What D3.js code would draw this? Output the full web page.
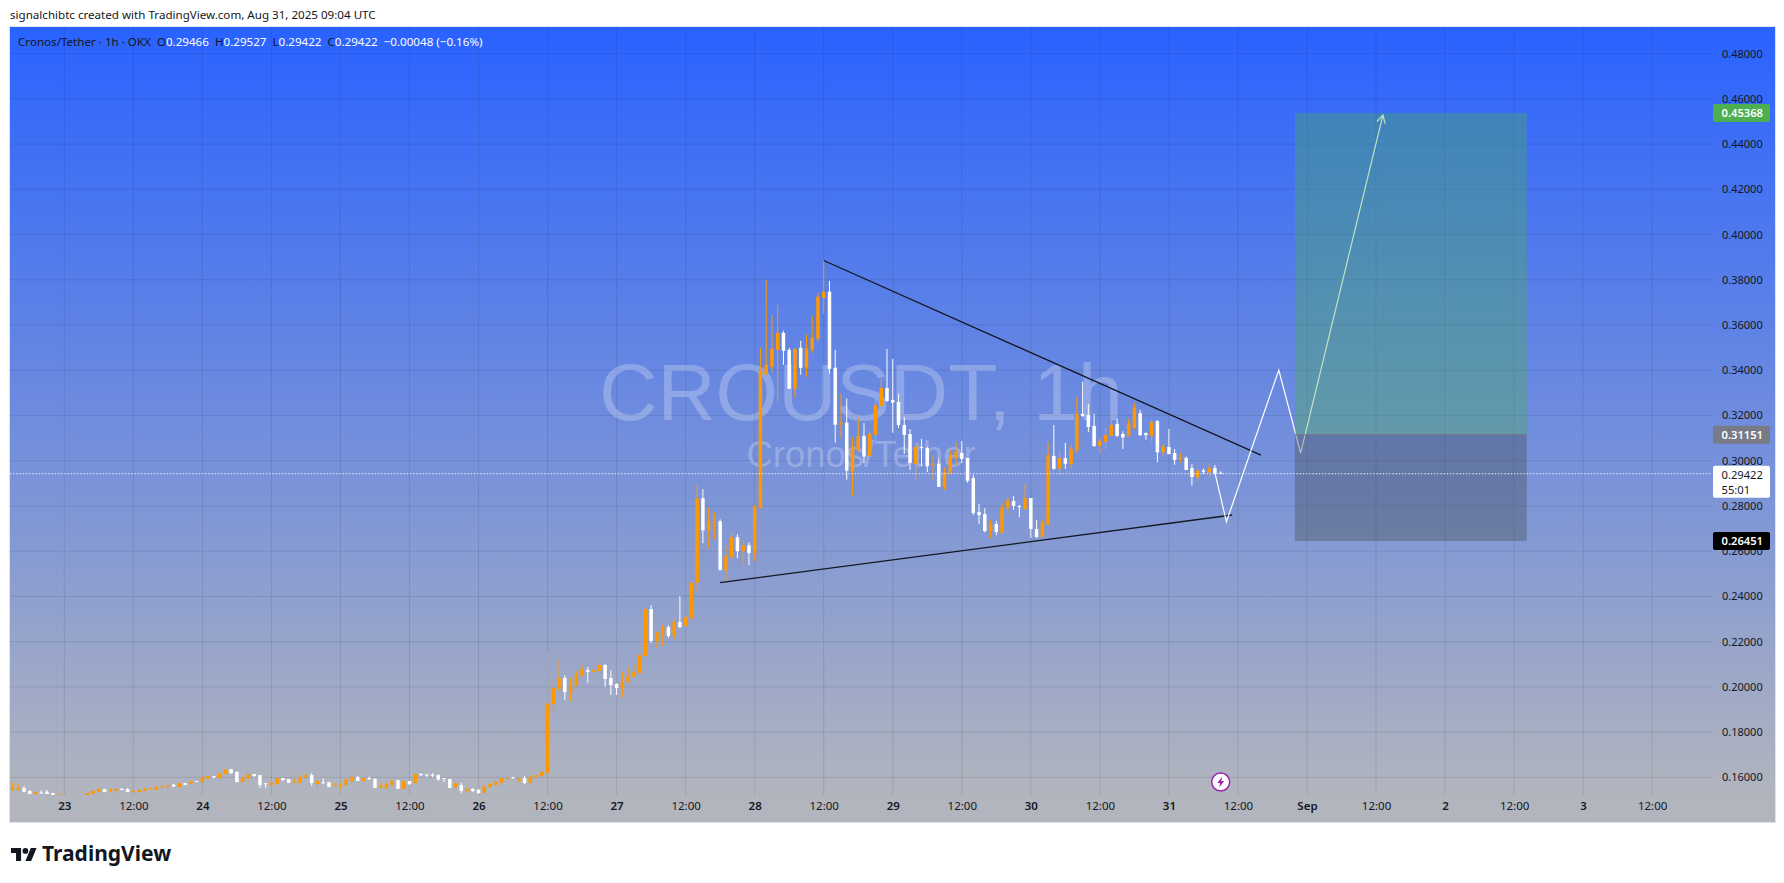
<!DOCTYPE html>
<html>
<head>
<meta charset="utf-8">
<script src="https://cdnjs.cloudflare.com/ajax/libs/d3/7.8.5/d3.min.js"></script>
<style>
  html, body { margin: 0; padding: 0; background: #fff; }
  svg { display: block; }
  text { font-family: "Noto Sans", sans-serif; }
</style>
</head>
<body>
<div id="chart"></div>
<script>
// hourly candles, first one is Aug 22 15:00 UTC
var firstHour = -9;  // hours relative to Aug 23 00:00
var opens = [
  .1544,.1544,.1553,.1540,.1527,.1534,.1537,.1531,.1522,.1520,
  .1512,.1508,.1510,.1522,.1527,.1535,.1549,.1540,.1540,.1549,
  .1549,.1537,.1535,.1540,.1549,.1544,.1557,.1559,.1568,.1557,
  .1575,.1571,.1584,.1579,.1593,.1606,.1597,.1615,.1637,.1624,
  .1579,.1593,.1615,.1610,.1574,.1566,.1571,.1597,.1593,.1575,
  .1575,.1599,.1610,.1571,.1579,.1579,.1563,.1568,.1566,.1585,
  .1601,.1584,.1597,.1593,.1554,.1554,.1566,.1588,.1549,.1584,
  .1575,.1615,.1613,.1612,.1610,.1597,.1593,.1557,.1566,.1540,
  .1549,.1544,.1531,.1557,.1566,.1575,.1593,.1601,.1588,.1597,
  .1575,.1600,.1606,.1619,.1924,.1990,.2039,.1977,.2004,.2048,
  .2074,.2066,.2070,.2097,.2039,.2013,.1995,.2021,.2044,.2061,
  .2136,.2344,.2203,.2234,.2264,.2225,.2287,.2269,.2304,.2461,
  .2834,.2692,.2728,.2732,.2516,.2573,.2662,.2600,.2626,.2591,
  .2790,.3380,.3415,.3490,.3565,.3490,.3318,.3499,.3411,.3490,
  .3539,.3720,.3747,.3411,.3159,.3168,.2948,.3048,.3110,.3022,
  .3114,.3242,.3322,.3269,.3260,.3158,.3118,.2986,.3061,.3056,
  .2981,.2986,.2884,.2946,.3012,.3034,.3012,.2923,.2773,.2764,
  .2689,.2720,.2680,.2791,.2822,.2800,.2786,.2835,.2698,.2663,
  .2716,.3021,.2964,.3012,.2986,.3048,.3207,.3202,.3154,.3065,
  .3083,.3110,.3163,.3118,.3108,.3145,.3210,.3122,.3110,.3175,
  .3037,.3060,.3034,.3010,.3012,.2968,.2926,.2957,.2948,.2968,.29466
];
var highs = [
  .1578,.1571,.1562,.1544,.1540,.1544,.1544,.1531,.1527,.1522,
  .1516,.1514,.1519,.1531,.1541,.1554,.1549,.1550,.1553,.1553,
  .1553,.1549,.1549,.1554,.1553,.1562,.1562,.1565,.1572,.1575,
  .1575,.1584,.1584,.1603,.1606,.1606,.1618,.1635,.1637,.1628,
  .1603,.1615,.1615,.1610,.1575,.1588,.1597,.1597,.1593,.1593,
  .1610,.1616,.1619,.1588,.1596,.1579,.1575,.1575,.1593,.1609,
  .1606,.1601,.1603,.1597,.1575,.1575,.1588,.1588,.1584,.1584,
  .1619,.1619,.1613,.1619,.1615,.1597,.1593,.1579,.1575,.1557,
  .1553,.1549,.1562,.1575,.1584,.1597,.1601,.1601,.1597,.1606,
  .1606,.1610,.1628,.2156,.2023,.2120,.2052,.2039,.2070,.2097,
  .2088,.2101,.2127,.2101,.2074,.2017,.2066,.2088,.2101,.2192,
  .2348,.2362,.2242,.2273,.2273,.2300,.2401,.2318,.2467,.2896,
  .2874,.2794,.2772,.2741,.2626,.2682,.2675,.2644,.2639,.2803,
  .3499,.3800,.3645,.3689,.3574,.3499,.3495,.3530,.3557,.3641,
  .3742,.3888,.3795,.3490,.3296,.3275,.3101,.3190,.3166,.3132,
  .3272,.3364,.3494,.3450,.3295,.3193,.3140,.3079,.3096,.3062,
  .3025,.3006,.2968,.3048,.3083,.3087,.3012,.2938,.2808,.2790,
  .2738,.2733,.2814,.2839,.2844,.2804,.2897,.2835,.2738,.2739,
  .3082,.3158,.3043,.3079,.3070,.3282,.3348,.3251,.3207,.3101,
  .3145,.3211,.3185,.3130,.3185,.3255,.3225,.3125,.3180,.3180,
  .3074,.3140,.3052,.3034,.3019,.2985,.2966,.2966,.2990,.2981,.29527
];
var lows = [
  .1544,.1544,.1535,.1527,.1527,.1529,.1527,.1522,.1522,.1510,
  .1506,.1504,.1507,.1522,.1527,.1535,.1535,.1535,.1540,.1544,
  .1535,.1537,.1535,.1540,.1544,.1544,.1553,.1553,.1559,.1557,
  .1566,.1571,.1581,.1579,.1593,.1597,.1597,.1615,.1615,.1579,
  .1579,.1593,.1600,.1553,.1553,.1566,.1571,.1584,.1576,.1575,
  .1575,.1599,.1562,.1549,.1571,.1557,.1563,.1549,.1566,.1579,
  .1584,.1579,.1588,.1553,.1554,.1549,.1566,.1549,.1549,.1566,
  .1575,.1606,.1601,.1601,.1584,.1579,.1553,.1549,.1531,.1535,
  .1535,.1527,.1531,.1557,.1566,.1575,.1593,.1593,.1579,.1571,
  .1575,.1600,.1606,.1615,.1880,.1983,.1942,.1937,.2004,.2048,
  .2017,.2035,.2070,.1999,.1964,.1964,.1955,.2021,.2044,.2061,
  .2127,.2194,.2172,.2181,.2216,.2211,.2260,.2265,.2278,.2423,
  .2635,.2613,.2653,.2516,.2467,.2555,.2569,.2538,.2538,.2555,
  .2790,.3380,.3389,.3261,.3424,.3318,.3278,.3380,.3371,.3477,
  .3526,.3649,.3384,.3079,.3101,.2916,.2845,.3040,.2989,.3013,
  .3070,.3242,.3260,.3123,.3145,.3030,.2959,.2915,.2977,.2950,
  .2915,.2884,.2871,.2942,.2977,.2990,.2902,.2760,.2720,.2683,
  .2658,.2672,.2680,.2764,.2782,.2751,.2782,.2658,.2658,.2663,
  .2716,.2959,.2937,.2964,.2968,.3034,.3193,.3127,.3061,.3030,
  .3048,.3110,.3105,.3052,.3108,.3140,.3108,.3093,.3084,.2993,
  .3022,.3029,.2982,.2993,.2959,.2890,.2907,.2941,.2928,.2944,.29422
];
var closes = [
  .1553,.1553,.1535,.1527,.1535,.1529,.1527,.1522,.1527,.1512,
  .1508,.1510,.1517,.1531,.1541,.1550,.1535,.1546,.1549,.1544,
  .1535,.1540,.1544,.1550,.1553,.1557,.1562,.1565,.1559,.1575,
  .1566,.1584,.1581,.1600,.1606,.1600,.1618,.1635,.1619,.1579,
  .1600,.1615,.1606,.1566,.1571,.1575,.1597,.1588,.1576,.1579,
  .1601,.1610,.1575,.1584,.1575,.1557,.1566,.1571,.1593,.1600,
  .1584,.1597,.1594,.1553,.1562,.1571,.1584,.1549,.1584,.1571,
  .1615,.1610,.1610,.1609,.1591,.1594,.1553,.1574,.1540,.1549,
  .1540,.1531,.1562,.1571,.1579,.1597,.1597,.1597,.1597,.1575,
  .1601,.1610,.1624,.1927,.1995,.2039,.1977,.2004,.2052,.2079,
  .2066,.2074,.2097,.2035,.2008,.1995,.2021,.2048,.2066,.2141,
  .2344,.2203,.2242,.2264,.2225,.2287,.2264,.2309,.2461,.2834,
  .2692,.2732,.2732,.2516,.2578,.2662,.2600,.2626,.2591,.2799,
  .3393,.3424,.3495,.3565,.3486,.3318,.3495,.3411,.3495,.3543,
  .3725,.3747,.3406,.3159,.3168,.2956,.3063,.3110,.3018,.3119,
  .3246,.3322,.3264,.3257,.3158,.3114,.2990,.3061,.3056,.2977,
  .2986,.2884,.2950,.3017,.3039,.3008,.2911,.2769,.2760,.2689,
  .2716,.2685,.2795,.2826,.2800,.2795,.2835,.2698,.2663,.2725,
  .3025,.2964,.3012,.2986,.3052,.3207,.3198,.3149,.3065,.3087,
  .3114,.3158,.3110,.3103,.3165,.3235,.3113,.3113,.3170,.3037,
  .3063,.3029,.3003,.3013,.2959,.2928,.2956,.2951,.2968,.2944,.29422
];

var priceTicks = [.16,.18,.20,.22,.24,.26,.28,.30,.32,.34,.36,.38,.40,.42,.44,.46,.48];
var timeTicks = [0,12,24,36,48,60,72,84,96,108,120,132,144,156,168,180,192,204,216,228,240,252,264,276];
var timeLabels = ["23","12:00","24","12:00","25","12:00","26","12:00","27","12:00","28","12:00","29","12:00","30","12:00","31","12:00","Sep","12:00","2","12:00","3","12:00"];

// drawings, as [hour, price]
var upperLine = [[132, .3885], [208, .3025]];
var lowerLine = [[114, .2461], [203, .2760]];
var projection = [[200, .2946], [202, .2730], [211.1, .3401], [214.9, .3034], [229.2, .4528]];
var positionHours = [213.9, 254.2];
var targetPrice = .45368, entryPrice = .31151, stopPrice = .26451, lastPrice = .29422;

var width = 1784, height = 883;
var pane = { left: 10, top: 27, right: 1712, bottom: 795, edge: 1775, floor: 822 };

var x = d3.scaleLinear().domain([-9.44, 286.4]).range([pane.left, pane.right]);
var y = d3.scaleLinear().domain([.16, .48]).range([777.4, 53.5]);

var svg = d3.select("#chart").append("svg").attr("width", width).attr("height", height);
var defs = svg.append("defs");

var grad = defs.append("linearGradient").attr("id", "bg")
  .attr("x1", 0).attr("y1", 0).attr("x2", 0).attr("y2", 1);
grad.append("stop").attr("offset", "0%").attr("stop-color", "#2962ff");
grad.append("stop").attr("offset", "100%").attr("stop-color", "#b2b5be");

defs.append("clipPath").attr("id", "plot").append("rect")
  .attr("x", pane.left).attr("y", pane.top)
  .attr("width", pane.right - pane.left).attr("height", pane.bottom - pane.top);

// header line
svg.append("text").attr("x", 10).attr("y", 19).attr("font-size", 11.6).attr("fill", "#131722")
  .text("signalchibtc created with TradingView.com, Aug 31, 2025 09:04 UTC");

// background
svg.append("rect").attr("x", pane.left).attr("y", pane.top)
  .attr("width", pane.edge - pane.left).attr("height", pane.floor - pane.top)
  .attr("fill", "#b2b5be");
svg.append("rect").attr("x", pane.left).attr("y", pane.top)
  .attr("width", pane.edge - pane.left).attr("height", pane.bottom - pane.top)
  .attr("fill", "url(#bg)");
svg.append("rect").attr("x", pane.left - .5).attr("y", pane.top - .5)
  .attr("width", pane.edge - pane.left + 1).attr("height", pane.floor - pane.top + 1)
  .attr("fill", "none").attr("stroke", "#e0e3eb");

// grid
var grid = svg.append("g").attr("stroke", "rgba(19,23,34,.10)").attr("stroke-width", 1);
grid.selectAll("line.v").data(timeTicks).enter().append("line").attr("class", "v")
  .attr("x1", function(d) { return x(d); }).attr("x2", function(d) { return x(d); })
  .attr("y1", pane.top).attr("y2", pane.bottom);
grid.selectAll("line.h").data(priceTicks).enter().append("line").attr("class", "h")
  .attr("x1", pane.left).attr("x2", pane.right)
  .attr("y1", function(d) { return y(d); }).attr("y2", function(d) { return y(d); });

// watermark
var mid = (pane.left + pane.right) / 2;
svg.append("text").attr("x", mid).attr("y", 420).attr("text-anchor", "middle")
  .attr("font-size", 80.5).attr("fill", "#fff").attr("fill-opacity", .25)
  .style("font-family", "'Liberation Sans', sans-serif").text("CROUSDT, 1h");
svg.append("text").attr("x", mid).attr("y", 467).attr("text-anchor", "middle")
  .attr("font-size", 36.5).attr("fill", "#fff").attr("fill-opacity", .25)
  .style("font-family", "'Liberation Sans', sans-serif").text("Cronos/Tether");

// candles
var candleIdx = d3.range(opens.length);
var candleColor = function(i) { return closes[i] >= opens[i] ? "#ff9800" : "#ffffff"; };
var candles = svg.append("g").attr("clip-path", "url(#plot)");
candles.selectAll("line").data(candleIdx).enter().append("line")
  .attr("x1", function(i) { return x(firstHour + i); })
  .attr("x2", function(i) { return x(firstHour + i); })
  .attr("y1", function(i) { return y(highs[i]); })
  .attr("y2", function(i) { return y(lows[i]); })
  .attr("stroke", candleColor).attr("stroke-width", 1);
candles.selectAll("rect").data(candleIdx).enter().append("rect")
  .attr("x", function(i) { return x(firstHour + i) - 1.75; })
  .attr("width", 3.5)
  .attr("y", function(i) { return y(Math.max(opens[i], closes[i])); })
  .attr("height", function(i) { return Math.max(1, Math.abs(y(opens[i]) - y(closes[i]))); })
  .attr("fill", candleColor);

// drawings
var line = d3.line().x(function(d) { return x(d[0]); }).y(function(d) { return y(d[1]); });
svg.append("path").attr("d", line(upperLine)).attr("fill", "none").attr("stroke", "#131722").attr("stroke-width", 1.3);
svg.append("path").attr("d", line(lowerLine)).attr("fill", "none").attr("stroke", "#131722").attr("stroke-width", 1.3);
svg.append("path").attr("d", line(projection)).attr("fill", "none").attr("stroke", "#fff").attr("stroke-width", 1.2);

// arrow head on the last leg
var tip = projection[projection.length - 1], prev = projection[projection.length - 2];
var ang = Math.atan2(y(tip[1]) - y(prev[1]), x(tip[0]) - x(prev[0]));
var head = [-.5, .5].map(function(a) {
  return [x(tip[0]) - 9 * Math.cos(ang + a), y(tip[1]) - 9 * Math.sin(ang + a)];
});
svg.append("path")
  .attr("d", "M" + head[0] + "L" + x(tip[0]) + "," + y(tip[1]) + "L" + head[1])
  .attr("fill", "none").attr("stroke", "#fff").attr("stroke-width", 1.2);

// long position boxes
svg.append("rect").attr("x", x(positionHours[0])).attr("width", x(positionHours[1]) - x(positionHours[0]))
  .attr("y", y(targetPrice)).attr("height", y(entryPrice) - y(targetPrice))
  .attr("fill", "#4caf50").attr("fill-opacity", .36);
svg.append("rect").attr("x", x(positionHours[0])).attr("width", x(positionHours[1]) - x(positionHours[0]))
  .attr("y", y(entryPrice)).attr("height", y(stopPrice) - y(entryPrice))
  .attr("fill", "#4a5560").attr("fill-opacity", .42);
svg.append("line").attr("x1", x(positionHours[0])).attr("x2", x(positionHours[1]))
  .attr("y1", y(entryPrice)).attr("y2", y(entryPrice))
  .attr("stroke", "#787b86").attr("stroke-width", 1);

// last price line
svg.append("line").attr("x1", pane.left).attr("x2", pane.right)
  .attr("y1", y(lastPrice)).attr("y2", y(lastPrice))
  .attr("stroke", "#fff").attr("stroke-width", 1.2).attr("stroke-dasharray", "1.3 1.9");

// price axis
var fmt = d3.format(".5f");
var yAxis = d3.axisRight(y).tickValues(priceTicks).tickFormat(fmt).tickSize(0).tickPadding(0);
var yg = svg.append("g").attr("transform", "translate(1722,0)").call(yAxis);
yg.select(".domain").remove();
yg.selectAll("text").attr("font-size", 11).attr("fill", "#131722")
  .style("font-family", "'Noto Sans', sans-serif");

// time axis
var xAxis = d3.axisBottom(x).tickValues(timeTicks)
  .tickFormat(function(d, i) { return timeLabels[i]; }).tickSize(0).tickPadding(0);
var xg = svg.append("g").attr("transform", "translate(0,802)").call(xAxis);
xg.select(".domain").remove();
xg.selectAll("text").attr("font-size", 11.5).attr("fill", "#131722")
  .style("font-family", "'Noto Sans', sans-serif")
  .attr("font-weight", function(d, i) { return timeLabels[i] === "12:00" ? 400 : 600; });

// price tags
function tag(price, bg, fg) {
  var g = svg.append("g").attr("transform", "translate(1713," + y(price) + ")");
  g.append("rect").attr("x", 0).attr("y", -9).attr("width", 57).attr("height", 18).attr("rx", 2).attr("fill", bg);
  g.append("text").attr("x", 8.5).attr("y", 4).attr("font-size", 11.2).attr("font-weight", 600).attr("fill", fg).text(fmt(price));
}
tag(targetPrice, "#4caf50", "#fff");
tag(entryPrice, "#787b86", "#fff");
tag(stopPrice, "#000000", "#fff");
var lastTag = svg.append("g").attr("transform", "translate(1713," + y(lastPrice) + ")");
lastTag.append("rect").attr("x", 0).attr("y", -8).attr("width", 57).attr("height", 32).attr("rx", 2).attr("fill", "#fff");
lastTag.append("text").attr("x", 8.5).attr("y", 5).attr("font-size", 11.2).attr("fill", "#131722").text(fmt(lastPrice));
lastTag.append("text").attr("x", 8.5).attr("y", 20).attr("font-size", 11.2).attr("fill", "#131722").text("55:01");

// legend
var legend = svg.append("text").attr("x", 18).attr("y", 46).attr("font-size", 11.6);
var legendParts = [["Cronos/Tether · 1h · OKX", "#131722"], ["  O", "#131722"], ["0.29466", "#fff"], ["  H", "#131722"], ["0.29527", "#fff"],
  ["  L", "#131722"], ["0.29422", "#fff"], ["  C", "#131722"], ["0.29422", "#fff"], ["  −0.00048 (−0.16%)", "#fff"]];
legend.attr("xml:space", "preserve").style("white-space", "pre");
legendParts.forEach(function(p) { legend.append("tspan").attr("fill", p[1]).text(p[0]); });

// lightning badge on the last bar
var badge = svg.append("g").attr("transform", "translate(" + x(201) + ",782)");
badge.append("circle").attr("r", 9).attr("fill", "#fff").attr("stroke", "#9c27b0").attr("stroke-width", 1.5);
badge.append("path").attr("d", "M1.5,-5.5L-3.5,1H-.5L-1.5,5.5L3.5,-1H.5Z").attr("fill", "#9c27b0");

// TradingView logo
var logo = svg.append("g").attr("transform", "translate(11,843) scale(.72)").attr("fill", "#131722");
logo.append("path").attr("d", "M14 25H7V14H0V7h14v18zM28 25h-8l7.5-18h8L28 25z");
logo.append("circle").attr("cx", 20).attr("cy", 11).attr("r", 4);
svg.append("text").attr("x", 42).attr("y", 861).attr("font-size", 21).attr("font-weight", 700)
  .attr("fill", "#131722").text("TradingView");
</script>
</body>
</html>
